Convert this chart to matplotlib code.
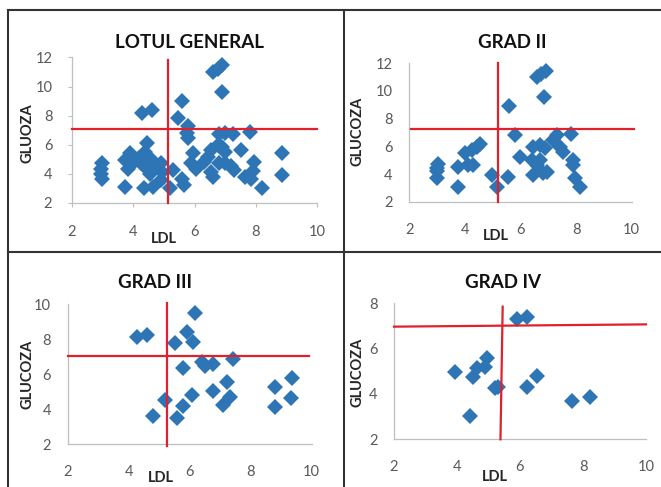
import numpy as np
import matplotlib
matplotlib.use("Agg")
import matplotlib.pyplot as plt
from matplotlib.lines import Line2D

plt.rcParams["font.family"] = ["Lato", "DejaVu Sans"]

# ---------------------------------
# Data
# ---------------------------------
general_ldl = [6.6, 6.75, 6.9, 6.9, 5.6, 4.3, 4.6, 5.45, 5.8, 5.75, 5.8,
               7.8, 6.8, 7.0, 7.25, 6.75, 6.9, 7.0, 7.5,
               8.85, 8.85, 7.95, 7.9, 8.2, 7.65, 7.85,
               6.8, 7.0, 7.2, 7.3, 6.55, 6.6, 6.55, 6.45, 6.3, 5.95, 5.9, 6.05,
               5.3, 5.6, 5.65, 5.2, 4.9, 4.35, 4.65, 4.95, 4.9, 4.6, 4.7, 4.55,
               4.2, 4.25, 4.35, 4.45, 4.4, 3.75, 3.9, 4.0, 3.85, 3.75,
               3.0, 2.95, 2.95, 3.0]
general_glu = [11.0, 11.2, 11.45, 9.65, 9.0, 8.2, 8.35, 7.85, 7.3, 6.8, 6.45,
               6.9, 6.7, 6.8, 6.7, 6.0, 5.85, 5.5, 5.6,
               5.45, 3.9, 4.8, 4.2, 3.0, 3.8, 3.6,
               4.7, 4.7, 4.5, 4.25, 4.1, 3.8, 5.6, 5.15, 4.8, 5.4, 4.7, 4.35,
               4.25, 3.65, 3.2, 3.0, 3.55, 3.0, 3.1, 4.1, 4.7, 4.95, 4.5, 4.0,
               5.05, 4.7, 4.5, 6.1, 5.5, 4.95, 5.4, 4.7, 4.35, 3.1,
               4.7, 4.35, 4.0, 3.65]

grad2_ldl = [6.6, 6.75, 6.9, 6.85, 5.6, 5.8, 7.8, 7.3, 7.18, 7.42, 7.54,
             6.46, 6.7, 6.88, 6.4, 6.58, 6.7, 6.46, 6.82, 6.94, 5.98, 5.56,
             4.96, 5.14, 3.76, 3.04, 2.98, 2.98, 3.0, 3.76, 4.0, 4.12, 4.3,
             4.24, 4.42, 4.54, 7.9, 7.9, 7.96, 8.14]
grad2_glu = [11.0, 11.2, 11.45, 9.6, 8.95, 6.8, 6.9, 6.8, 6.45, 5.98, 5.6,
             5.95, 6.1, 5.85, 5.0, 4.65, 5.0, 3.95, 4.05, 4.15, 5.25, 3.8,
             3.95, 3.08, 3.08, 4.7, 4.2, 3.7, 4.45, 4.5, 5.5, 4.65, 4.65,
             5.75, 5.95, 6.2, 5.0, 4.65, 3.7, 3.08]

grad3_ldl = [6.17, 4.26, 4.59, 5.9, 5.52, 6.1, 6.39, 6.5, 6.78, 7.41,
             5.79, 7.21, 6.78, 6.07, 7.32, 7.1, 5.79, 5.19, 4.79, 5.57,
             8.8, 9.34, 8.8, 9.31]
grad3_glu = [9.47, 8.14, 8.23, 8.42, 7.76, 7.85, 6.71, 6.45, 6.58, 6.84,
             6.33, 5.57, 5.05, 4.81, 4.71, 4.24, 4.18, 4.52, 3.61, 3.52,
             5.29, 5.76, 4.15, 4.62]

grad4_ldl = [5.89, 6.21, 3.94, 4.62, 4.52, 4.94, 4.89, 5.21, 5.31,
             6.21, 6.53, 7.64, 8.22, 4.41]
grad4_glu = [7.29, 7.41, 4.98, 5.13, 4.76, 5.57, 5.17, 4.25, 4.32,
             4.32, 4.79, 3.69, 3.88, 3.03]

# Reference lines (LDL cut, glucose cut) as drawn in each panel
cut_lines = {
    "general": ((5.15, 2.0, 5.15, 11.85), (2.0, 7.1, 10.0, 7.1)),
    "grad2": ((5.2, 2.0, 5.2, 12.0), (2.05, 7.25, 10.1, 7.25)),
    "grad3": ((5.27, 1.9, 5.27, 10.05), (2.0, 7.05, 9.9, 7.05)),
    "grad4": ((5.45, 7.85, 5.38, 2.0), (2.0, 6.97, 10.0, 7.07)),
}

W, H = 661, 487
BLUE = "#2E75B6"
RED = "#E0202A"
GRAY = "#BFBFBF"
TXT = "#595959"


def fx(x):
    return x / W


def fy(y):
    return 1 - y / H


def make_panel(fig, box, ldl, glu, ylim, yticks, lines, ticks_on):
    # box = (x_left, y_top, x_right, y_bottom) in pixels
    x0, y0, x1, y1 = box
    ax = fig.add_axes([fx(x0), fy(y1), (x1 - x0) / W, (y1 - y0) / H])
    ax.plot(ldl, glu, "D", color=BLUE, markersize=7.8, markeredgewidth=0,
            zorder=3, clip_on=False)
    v, h = lines
    ax.plot([v[0], v[2]], [v[1], v[3]], color=RED, lw=1.6, zorder=4, clip_on=False)
    ax.plot([h[0], h[2]], [h[1], h[3]], color=RED, lw=1.6, zorder=4, clip_on=False)
    ax.set_xlim(2, 10)
    ax.set_ylim(*ylim)
    ax.set_xticks([2, 4, 6, 8, 10])
    ax.set_yticks(yticks)
    for s in ["top", "right"]:
        ax.spines[s].set_visible(False)
    for s in ["left", "bottom"]:
        ax.spines[s].set_color(GRAY)
        ax.spines[s].set_linewidth(0.9)
    tl = 3 if ticks_on else 0
    ax.tick_params(axis="x", length=tl, color=GRAY, labelcolor=TXT,
                   labelsize=10.5, pad=13 if ticks_on else 15)
    ax.tick_params(axis="y", length=tl, color=GRAY, labelcolor=TXT,
                   labelsize=10.5, pad=11 if ticks_on else 12)
    ax.patch.set_alpha(0)
    return ax


fig = plt.figure(figsize=(6.61, 4.87), dpi=100)

make_panel(fig, (71.7, 57.5, 317.3, 202.7), general_ldl, general_glu,
           (2, 12), [2, 4, 6, 8, 10, 12], cut_lines["general"], True)
make_panel(fig, (409.3, 63.3, 631.7, 201.7), grad2_ldl, grad2_glu,
           (2, 12), [2, 4, 6, 8, 10, 12], cut_lines["grad2"], False)
make_panel(fig, (67.7, 304.0, 311.7, 444.3), grad3_ldl, grad3_glu,
           (2, 10), [2, 4, 6, 8, 10], cut_lines["grad3"], False)
make_panel(fig, (394.0, 303.3, 646.0, 439.3), grad4_ldl, grad4_glu,
           (2, 8), [2, 4, 6, 8], cut_lines["grad4"], False)

# Titles and axis labels
titles = [("LOTUL GENERAL", 190, 42), ("GRAD II", 512, 43),
          ("GRAD III", 155, 283), ("GRAD IV", 503, 282)]
for t, x, y in titles:
    fig.text(fx(x), fy(y), t, ha="center", va="center", fontsize=13.5,
             fontweight="bold", color="#111111")

ylabels = [("GLUOZA", 28, 133), ("GLUCOZA", 358, 131),
           ("GLUCOZA", 28, 374), ("GLUCOZA", 358, 372)]
for t, x, y in ylabels:
    fig.text(fx(x), fy(y), t, ha="center", va="center", rotation=90,
             fontsize=10.5, fontweight="bold", color="#262626")

xlabels = [("LDL", 164, 239), ("LDL", 496, 236),
           ("LDL", 161, 478), ("LDL", 495, 477)]
for t, x, y in xlabels:
    fig.text(fx(x), fy(y), t, ha="center", va="center",
             fontsize=10.5, fontweight="bold", color="#262626")

# Table borders around the four charts
border = dict(color="#333333", lw=1.5)
fig.add_artist(Line2D([fx(8), 1], [fy(10), fy(10)], **border))
fig.add_artist(Line2D([fx(8), 1], [fy(252), fy(252)], **border))
fig.add_artist(Line2D([fx(8), fx(8)], [fy(10), 0], **border))
fig.add_artist(Line2D([fx(344), fx(344)], [fy(10), 0], **border))

fig.savefig("out.png", dpi=100)
